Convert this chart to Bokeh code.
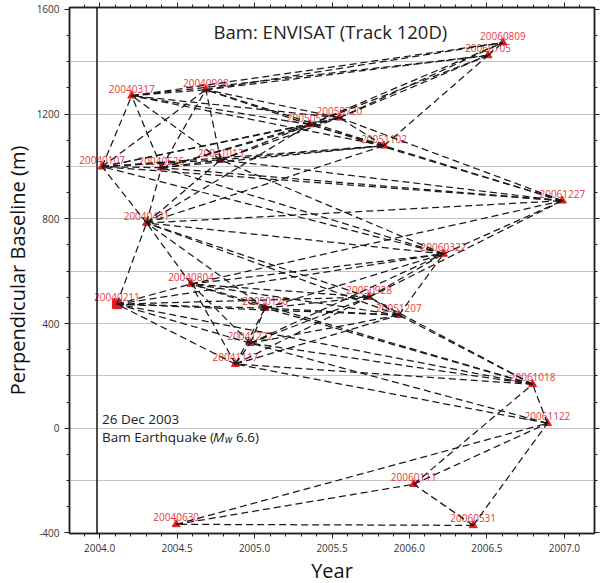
import datetime as dt
from bokeh.plotting import figure
from bokeh.models import (ColumnDataSource, Range1d, LinearAxis, FixedTicker, Span, Label, Title)
from bokeh.embed import file_html
from bokeh.resources import INLINE
from bokeh.core.properties import value

# ---------------- data ----------------
acq_dates = ["20040107", "20040211", "20040317", "20040421", "20040526", "20040630",
             "20040804", "20040908", "20041013", "20041117", "20041222", "20050126",
             "20050511", "20050720", "20050928", "20051102", "20051207", "20060111",
             "20060322", "20060531", "20060705", "20060809", "20061018", "20061122",
             "20061227"]
bperp_m = [999, 474, 1270, 784, 995, -367,
           551, 1293, 1025, 245, 325, 459,
           1160, 1186, 501, 1079, 432, -214,
           666, -371, 1424, 1473, 168, 19,
           869]
master_date = "20040211"
quake_date = "20031226"

pairs = [
    ("20060531", "20040630"), ("20060531", "20060111"), ("20060531", "20061122"),
    ("20040630", "20060111"), ("20040630", "20061122"),
    ("20060111", "20061122"), ("20060111", "20061018"),
    ("20061122", "20061018"), ("20061122", "20041117"), ("20061122", "20041222"),
    ("20061018", "20041117"), ("20061018", "20041222"), ("20061018", "20051207"),
    ("20061018", "20050126"), ("20061018", "20040211"), ("20061018", "20050928"),
    ("20061018", "20040804"),
    ("20041117", "20041222"), ("20041117", "20051207"), ("20041117", "20050126"),
    ("20041117", "20040211"), ("20041117", "20050928"), ("20041117", "20040804"),
    ("20041222", "20051207"), ("20041222", "20050126"), ("20041222", "20040211"),
    ("20041222", "20050928"), ("20041222", "20040804"), ("20041222", "20060322"),
    ("20051207", "20050126"), ("20051207", "20040211"), ("20051207", "20050928"),
    ("20051207", "20040804"), ("20051207", "20060322"), ("20051207", "20040421"),
    ("20050126", "20040211"), ("20050126", "20050928"), ("20050126", "20040804"),
    ("20050126", "20060322"), ("20050126", "20040421"),
    ("20040211", "20050928"), ("20040211", "20040804"), ("20040211", "20060322"),
    ("20040211", "20040421"),
    ("20050928", "20040804"), ("20050928", "20060322"), ("20050928", "20040421"),
    ("20050928", "20061227"),
    ("20040804", "20060322"), ("20040804", "20040421"), ("20040804", "20061227"),
    ("20060322", "20040421"), ("20060322", "20061227"), ("20060322", "20040526"),
    ("20060322", "20040107"), ("20060322", "20041013"),
    ("20040421", "20061227"), ("20040421", "20040526"), ("20040421", "20040107"),
    ("20040421", "20041013"), ("20040421", "20051102"), ("20040421", "20050511"),
    ("20061227", "20040526"), ("20061227", "20040107"), ("20061227", "20041013"),
    ("20061227", "20051102"), ("20061227", "20050511"), ("20061227", "20050720"),
    ("20040526", "20040107"), ("20040526", "20041013"), ("20040526", "20051102"),
    ("20040526", "20050511"), ("20040526", "20050720"), ("20040526", "20040317"),
    ("20040526", "20040908"),
    ("20040107", "20041013"), ("20040107", "20051102"), ("20040107", "20050511"),
    ("20040107", "20050720"), ("20040107", "20040317"), ("20040107", "20040908"),
    ("20041013", "20051102"), ("20041013", "20050511"), ("20041013", "20050720"),
    ("20041013", "20040317"), ("20041013", "20040908"),
    ("20051102", "20050511"), ("20051102", "20050720"), ("20051102", "20040317"),
    ("20051102", "20040908"), ("20051102", "20060705"),
    ("20050511", "20050720"), ("20050511", "20040317"), ("20050511", "20040908"),
    ("20050511", "20060705"), ("20050511", "20060809"),
    ("20050720", "20040317"), ("20050720", "20040908"), ("20050720", "20060705"),
    ("20050720", "20060809"),
    ("20040317", "20040908"), ("20040317", "20060705"), ("20040317", "20060809"),
    ("20040908", "20060705"), ("20040908", "20060809"),
    ("20060705", "20060809"),
]

x_tick_values = [2004.0, 2004.5, 2005.0, 2005.5, 2006.0, 2006.5, 2007.0]
x_tick_labels = ["2004.0", "2004.5", "2005.0", "2005.5", "2006.0", "2006.5", "2007.0"]
y_tick_values = [-400, 0, 400, 800, 1200, 1600]
y_tick_labels = ["-400", "0", "400", "800", "1200", "1600"]
y_grid_values = [-200, 0, 200, 400, 600, 800, 1000, 1200, 1400]
x_minor_values = [round(2003.9 + 0.1 * i, 1) for i in range(33)]
y_minor_values = [-400 + 100 * i for i in range(21)]

title_text = "Bam: ENVISAT (Track 120D)"
quake_line1 = "26 Dec 2003"
x_title = "Year"
y_title = "Perpendicular Baseline (m)"

# ---------------- helpers ----------------
def decimal_year(s):
    d = dt.date(int(s[:4]), int(s[4:6]), int(s[6:]))
    start = dt.date(d.year, 1, 1)
    n = (dt.date(d.year + 1, 1, 1) - start).days
    return d.year + (d - start).days / n

years = [decimal_year(s) for s in acq_dates]
pos = {s: (x, b) for s, x, b in zip(acq_dates, years, bperp_m)}

nodes = ColumnDataSource(dict(x=years, y=bperp_m, label=acq_dates))
ms = [i for i, s in enumerate(acq_dates) if s == master_date]
others = [i for i, s in enumerate(acq_dates) if s != master_date]
src_tri = ColumnDataSource(dict(x=[years[i] for i in others], y=[bperp_m[i] for i in others]))
src_sq = ColumnDataSource(dict(x=[years[i] for i in ms], y=[bperp_m[i] for i in ms]))
edges = ColumnDataSource(dict(
    x0=[pos[a][0] for a, b in pairs], y0=[pos[a][1] for a, b in pairs],
    x1=[pos[b][0] for a, b in pairs], y1=[pos[b][1] for a, b in pairs]))

FONT = "Open Sans"
Y0, Y1 = -402, 1607

p = figure(width=607, height=583, output_backend="svg", toolbar_location=None,
           x_range=Range1d(2003.806, 2007.194), y_range=Range1d(Y0, Y1),
           min_border_left=69, min_border_right=13, min_border_top=7, min_border_bottom=0)
p.background_fill_color = "white"
p.outline_line_color = "#222222"
p.outline_line_width = 1.5

# grid
p.xgrid.visible = False
p.ygrid.ticker = FixedTicker(ticks=y_grid_values)
p.ygrid.grid_line_color = "#c4c4c4"
p.ygrid.grid_line_width = 1

def style_axis(ax, labels=True):
    ax.axis_line_color = "#222222"
    ax.axis_line_width = 1.5
    ax.major_tick_line_color = "#222222"
    ax.minor_tick_line_color = "#222222"
    ax.major_tick_out = 5
    ax.major_tick_in = 0
    ax.minor_tick_out = 3
    ax.minor_tick_in = 0
    if labels:
        ax.major_label_text_font = FONT
        ax.major_label_text_font_size = "10px"
        ax.major_label_text_color = "#333333"
        ax.major_label_standoff = 5
    else:
        ax.major_label_text_font_size = "0px"
        ax.major_label_text_color = None
        ax.major_label_standoff = 0

xt = FixedTicker(ticks=x_tick_values, minor_ticks=x_minor_values)
yt = FixedTicker(ticks=y_tick_values, minor_ticks=y_minor_values)

p.xaxis.ticker = xt
p.xaxis.major_label_overrides = dict(zip(x_tick_values, x_tick_labels))
p.yaxis.ticker = yt
p.yaxis.major_label_overrides = dict(zip(y_tick_values, y_tick_labels))
style_axis(p.xaxis[0])
style_axis(p.yaxis[0])
p.yaxis.axis_label = y_title
ax = p.yaxis[0]
ax.axis_label_text_font = FONT
ax.axis_label_text_font_size = "20px"
ax.axis_label_text_font_style = "normal"
ax.axis_label_text_color = "#111111"
ax.axis_label_standoff = 3

top_ax = LinearAxis(ticker=FixedTicker(ticks=x_tick_values, minor_ticks=x_minor_values))
right_ax = LinearAxis(ticker=FixedTicker(ticks=y_tick_values, minor_ticks=y_minor_values))
style_axis(top_ax, labels=False)
style_axis(right_ax, labels=False)
right_ax.major_label_overrides = {v: "" for v in y_tick_values}
p.add_layout(top_ax, "above")
p.add_layout(right_ax, "right")

# x-axis title below the tick labels
p.add_layout(Title(text=x_title, align="center", text_font=FONT, text_font_size="20px",
                   text_font_style="normal", text_color="#111111", standoff=0), "below")

# earthquake line
p.add_layout(Span(location=decimal_year(quake_date), dimension="height",
                  line_color="#111111", line_width=1.5))

# markers and labels
p.scatter("x", "y", source=src_tri, marker="triangle", size=8,
          fill_color="#e41a1c", line_color="#e41a1c")
p.scatter("x", "y", source=src_sq, marker="square", size=9,
          fill_color="#e41a1c", line_color="#e41a1c")
p.text("x", "y", text="label", source=nodes, text_font=value(FONT),
       text_font_size="10px", text_color="#e8383d", text_align="center",
       text_baseline="middle", y_offset=-7)

# interferogram pairs
p.segment("x0", "y0", "x1", "y1", source=edges, line_color="#1a1a1a",
          line_width=1.25, line_dash="7 4")

# title inside plot
p.add_layout(Label(x=2005.49, y=1516, text=title_text, text_font=FONT,
                   text_font_size="18.5px", text_color="#222222",
                   text_align="center", text_baseline="middle"))

qx = decimal_year(quake_date)
common = dict(text_font=FONT, text_color="#222222", text_baseline="middle")
p.add_layout(Label(x=qx, y=35, x_offset=5, text=quake_line1, text_font_size="13.5px", **common))
p.add_layout(Label(x=qx, y=-32, x_offset=5, text="Bam Earthquake (", text_font_size="13.5px", **common))
p.add_layout(Label(x=qx, y=-32, x_offset=116, text="M", text_font_size="13.5px",
                   text_font_style="italic", **common))
p.add_layout(Label(x=qx, y=-32, x_offset=128, y_offset=-2, text="w", text_font_size="10px",
                   text_font_style="italic", **common))
p.add_layout(Label(x=qx, y=-32, x_offset=139, text="6.6)", text_font_size="13.5px", **common))

open("out.html", "w").write(file_html(p, INLINE))
